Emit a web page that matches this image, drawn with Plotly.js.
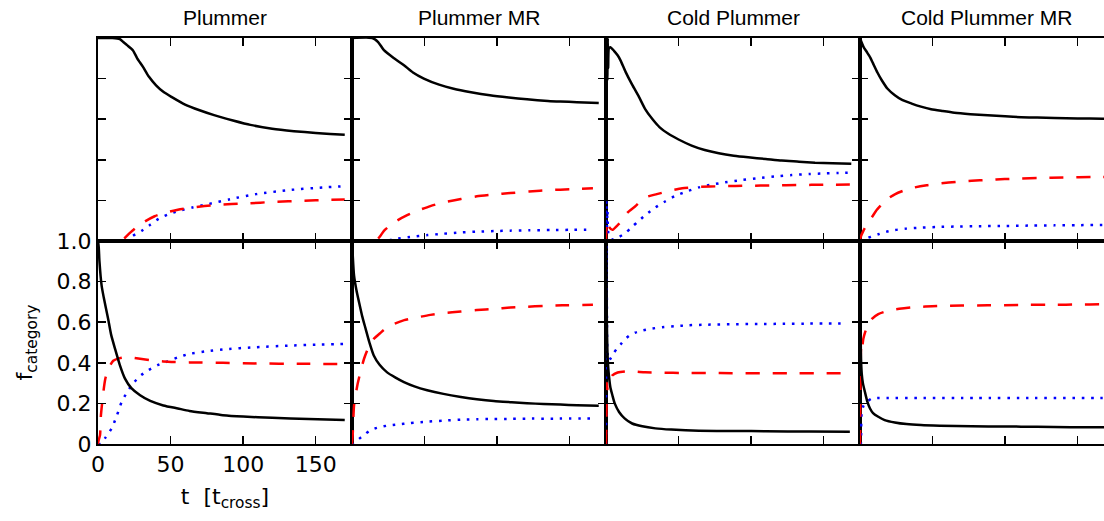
<!DOCTYPE html>
<html>
<head>
<meta charset="utf-8">
<script src="https://cdn.plot.ly/plotly-3.0.1.min.js"></script>
<style>
html, body { margin:0; padding:0; overflow:hidden; background:#fff; }
#chart { width:1116px; height:521px; }
</style>
</head>
<body>
<div id="chart"></div>
<script>
// ---------- labels ----------
const panelTitles = ["Plummer", "Plummer MR", "Cold Plummer", "Cold Plummer MR"];
const xTickVals = [0, 50, 100, 150];
const xTickText = ["0", "50", "100", "150"];
const yTickVals = [0, 0.2, 0.4, 0.6, 0.8, 1.0];
const yTickText = ["0", "0.2", "0.4", "0.6", "0.8", "1.0"];
const tRange = [0, 175];

// ---------- Plummer, top row ----------
const p1TopBlackT = [0, 10, 15, 17.4, 20, 24, 27, 31, 35, 40, 45, 50.6, 60, 70, 80, 93, 105, 120, 135, 150, 160, 170];
const p1TopBlackF = [1, 1, 0.995, 0.98, 0.965, 0.94, 0.9, 0.858, 0.81, 0.767, 0.735, 0.71, 0.672, 0.644, 0.62, 0.594, 0.572, 0.553, 0.541, 0.532, 0.527, 0.523];
const p1TopRedT = [0, 15, 18, 22, 27, 32.3, 39, 46.8, 55, 64.4, 82, 102, 121.7, 140.5, 159.6, 170];
const p1TopRedF = [0, 0, 0.012, 0.04, 0.07, 0.096, 0.122, 0.14, 0.154, 0.165, 0.178, 0.185, 0.193, 0.198, 0.203, 0.204];
const p1TopBlueT = [0, 20, 24, 30, 36, 42, 48, 56, 65, 75, 91, 109, 132, 155, 170];
const p1TopBlueF = [0, 0, 0.025, 0.05, 0.08, 0.11, 0.13, 0.149, 0.165, 0.18, 0.206, 0.231, 0.251, 0.264, 0.27];

// ---------- Plummer, bottom row ----------
const p1BotBlackT = [0, 0.5, 1, 2.5, 4, 7, 9, 11.7, 15, 18.6, 23, 29, 36, 45, 55, 63, 75, 86, 100, 120, 145, 170];
const p1BotBlackF = [1, 0.97, 0.9, 0.78, 0.72, 0.616, 0.54, 0.47, 0.39, 0.322, 0.275, 0.24, 0.212, 0.19, 0.175, 0.163, 0.152, 0.142, 0.135, 0.129, 0.123, 0.118];
const p1BotRedT = [0, 0.5, 1.4, 2, 3.7, 5, 7, 10.5, 15, 19.7, 24, 29, 36, 45, 63, 86, 109, 140, 170];
const p1BotRedF = [0, 0.02, 0.044, 0.14, 0.256, 0.32, 0.37, 0.41, 0.423, 0.428, 0.425, 0.42, 0.413, 0.407, 0.402, 0.4, 0.397, 0.395, 0.394];
const p1BotBlueT = [0, 2, 5, 9.4, 13, 16.3, 20, 24, 29, 34.6, 41, 48, 55, 63, 75, 86, 109, 132, 150, 170];
const p1BotBlueF = [0, 0, 0.03, 0.077, 0.14, 0.207, 0.255, 0.297, 0.335, 0.363, 0.388, 0.407, 0.427, 0.444, 0.457, 0.466, 0.477, 0.485, 0.489, 0.493];

// ---------- Plummer MR, top row ----------
const p2TopBlackT = [0, 14, 18, 22, 29, 35.8, 42, 49.5, 60, 70, 82, 95, 108, 120.6, 135, 143.5, 155, 170];
const p2TopBlackF = [1, 1, 0.98, 0.94, 0.9, 0.866, 0.83, 0.8, 0.77, 0.75, 0.733, 0.718, 0.707, 0.698, 0.69, 0.687, 0.684, 0.68];
const p2TopRedT = [0, 16, 19, 22, 26, 31, 38, 45, 54, 63, 75, 86, 98, 109, 122, 137, 150, 166];
const p2TopRedF = [0, 0, 0.02, 0.05, 0.075, 0.1, 0.127, 0.149, 0.172, 0.19, 0.207, 0.22, 0.229, 0.236, 0.244, 0.251, 0.255, 0.26];
const p2TopBlueT = [0, 22, 30, 40, 52, 63, 75, 86, 98, 109, 122, 137, 150, 166];
const p2TopBlueF = [0, 0, 0.01, 0.02, 0.029, 0.036, 0.042, 0.046, 0.049, 0.051, 0.053, 0.054, 0.055, 0.056];

// ---------- Plummer MR, bottom row ----------
const p2BotBlackT = [0, 0.5, 1.4, 3, 4.8, 7, 9.4, 12, 15, 19, 24, 30, 35.8, 43, 51.8, 63, 75, 86, 97.7, 110, 120.6, 132, 143.5, 155, 170];
const p2BotBlackF = [1, 0.93, 0.83, 0.76, 0.7, 0.63, 0.567, 0.5, 0.436, 0.39, 0.354, 0.327, 0.305, 0.284, 0.265, 0.247, 0.232, 0.221, 0.212, 0.206, 0.201, 0.197, 0.194, 0.191, 0.189];
const p2BotRedT = [0, 0.5, 1.4, 2.5, 3.7, 6, 8.3, 11, 15, 20, 24, 29, 36, 45, 54, 63, 75, 86, 98, 109, 120, 132, 145, 166];
const p2BotRedF = [0, 0.05, 0.19, 0.24, 0.29, 0.36, 0.42, 0.47, 0.518, 0.55, 0.574, 0.592, 0.61, 0.624, 0.636, 0.645, 0.653, 0.66, 0.666, 0.672, 0.676, 0.68, 0.683, 0.686];
const p2BotBlueT = [0, 1.5, 4, 8.3, 12, 17.4, 24, 31, 40, 52, 63, 75, 86, 97.7, 110, 120, 140, 166];
const p2BotBlueF = [0, 0, 0.02, 0.044, 0.065, 0.08, 0.09, 0.096, 0.103, 0.11, 0.115, 0.12, 0.122, 0.123, 0.124, 0.125, 0.125, 0.126];

// ---------- Cold Plummer, top row ----------
const p3TopBlackT = [0, 0.3, 0.6, 0.9, 1.2, 1.5, 2, 3, 5.5, 8, 10, 13.5, 18, 22.7, 27, 31.8, 37, 43, 50, 59, 68, 77.7, 88, 98, 110, 121, 133, 144, 156, 169];
const p3TopBlackF = [1, 0.8, 1, 0.79, 1, 0.85, 0.95, 0.955, 0.937, 0.915, 0.89, 0.833, 0.77, 0.71, 0.65, 0.602, 0.56, 0.528, 0.5, 0.47, 0.448, 0.432, 0.42, 0.412, 0.404, 0.396, 0.391, 0.386, 0.383, 0.38];
const p3TopRedT = [0, 0.3, 0.8, 2, 4.4, 7.6, 11, 14.8, 20, 27, 35, 44.5, 52.5, 63, 80, 98, 115, 133, 150, 168];
const p3TopRedF = [0, 0.07, 0.1, 0.07, 0.055, 0.075, 0.1, 0.14, 0.17, 0.214, 0.231, 0.248, 0.26, 0.266, 0.27, 0.272, 0.274, 0.276, 0.277, 0.278];
const p3TopBlueT = [0, 0.3, 0.6, 1, 2, 4.4, 9, 13.5, 18, 22.7, 28, 34, 41, 48, 56, 64, 73, 82, 93, 105, 116, 128, 140, 151, 160, 169];
const p3TopBlueF = [0, 0.2, 0.05, 0.15, 0.02, 0.008, 0.02, 0.04, 0.07, 0.1, 0.133, 0.165, 0.196, 0.223, 0.245, 0.264, 0.278, 0.289, 0.3, 0.31, 0.318, 0.325, 0.33, 0.333, 0.335, 0.337];

// ---------- Cold Plummer, bottom row ----------
const p3BotBlackT = [0, 0.3, 0.6, 1, 1.5, 2, 3, 4.4, 6, 9, 13, 18, 25, 34, 45, 64, 90, 110, 140, 168];
const p3BotBlackF = [1, 0.8, 0.6, 0.45, 0.38, 0.338, 0.28, 0.24, 0.2, 0.158, 0.125, 0.101, 0.087, 0.077, 0.071, 0.065, 0.064, 0.063, 0.061, 0.06];
const p3BotRedT = [0, 0.3, 0.6, 1, 2, 3, 4.4, 8, 13.5, 20, 27, 40, 52, 70, 87, 110, 133, 150, 167];
const p3BotRedF = [0, 0.15, 0.3, 0.27, 0.3, 0.32, 0.338, 0.352, 0.358, 0.357, 0.353, 0.351, 0.35, 0.35, 0.349, 0.349, 0.349, 0.349, 0.349];
const p3BotBlueT = [0, 0.3, 0.6, 1, 2, 3, 5.5, 8, 10, 13, 16, 20, 25, 31, 38.7, 47, 57, 70, 87, 105, 120, 140, 166];
const p3BotBlueF = [0, 0.98, 0.7, 0.45, 0.41, 0.42, 0.45, 0.475, 0.49, 0.515, 0.534, 0.548, 0.559, 0.568, 0.575, 0.58, 0.585, 0.588, 0.59, 0.591, 0.592, 0.593, 0.593];

// ---------- Cold Plummer MR, top row ----------
const p4TopBlackT = [0, 1, 2.5, 4.6, 7, 9, 12, 15, 19, 24, 29, 35.6, 42, 49, 57, 65, 76, 88, 100, 111, 122, 134, 150, 167, 175];
const p4TopBlackF = [1, 0.98, 0.955, 0.932, 0.905, 0.875, 0.83, 0.792, 0.75, 0.718, 0.695, 0.677, 0.662, 0.649, 0.64, 0.632, 0.625, 0.619, 0.614, 0.61, 0.608, 0.606, 0.604, 0.602, 0.601];
const p4TopRedT = [0, 0.5, 2.3, 5, 8, 11, 15, 19, 24, 30, 37.8, 46, 56, 66, 77, 88, 99.7, 111, 122.6, 140, 161.6, 175];
const p4TopRedF = [0, 0.02, 0.05, 0.085, 0.115, 0.148, 0.18, 0.208, 0.23, 0.248, 0.264, 0.275, 0.284, 0.291, 0.297, 0.301, 0.305, 0.308, 0.31, 0.313, 0.315, 0.316];
const p4TopBlueT = [0, 1, 3, 5.7, 9, 12.6, 18, 24, 32, 42, 53, 65, 80, 100, 118, 134, 150, 167, 175];
const p4TopBlueF = [0, 0, 0.008, 0.016, 0.025, 0.033, 0.045, 0.054, 0.061, 0.066, 0.069, 0.071, 0.073, 0.074, 0.076, 0.077, 0.078, 0.079, 0.079];

// ---------- Cold Plummer MR, bottom row ----------
const p4BotBlackT = [0, 0.3, 0.6, 1.2, 2, 3.4, 5, 6.9, 9, 12.6, 17, 24, 32, 42, 55, 77, 100, 122, 145, 167, 175];
const p4BotBlackF = [1, 0.7, 0.45, 0.346, 0.3, 0.256, 0.21, 0.175, 0.152, 0.134, 0.118, 0.106, 0.098, 0.093, 0.09, 0.087, 0.086, 0.085, 0.083, 0.082, 0.082];
const p4BotRedT = [0, 0.3, 0.6, 1, 1.5, 2.3, 3.5, 5.7, 8, 12.6, 19.5, 27, 35.6, 45, 54, 70, 88, 110, 134, 150, 167, 175];
const p4BotRedF = [0, 0.3, 0.45, 0.5, 0.48, 0.518, 0.55, 0.59, 0.615, 0.64, 0.657, 0.666, 0.673, 0.677, 0.68, 0.682, 0.683, 0.685, 0.686, 0.687, 0.688, 0.688];
const p4BotBlueT = [0, 0.5, 0.8, 1.2, 2.5, 4.6, 8, 12, 19.5, 40, 80, 120, 167, 175];
const p4BotBlueF = [0, 0, 0.08, 0.158, 0.19, 0.207, 0.224, 0.227, 0.227, 0.227, 0.227, 0.227, 0.227, 0.227];

// ---------- styles ----------
const styles = {
  black: {color: "#000000", width: 2.5, dash: "solid"},
  red:   {color: "#ff0000", width: 2.5, dash: "14px,13px"},
  blue:  {color: "#0000ff", width: 2.5, dash: "2.5px,6.8px"}
};

// [t, f, column(1-4), row("top"/"bot"), style]
const series = [
  [p1TopBlackT, p1TopBlackF, 1, "top", "black"], [p1TopRedT, p1TopRedF, 1, "top", "red"], [p1TopBlueT, p1TopBlueF, 1, "top", "blue"],
  [p1BotBlackT, p1BotBlackF, 1, "bot", "black"], [p1BotRedT, p1BotRedF, 1, "bot", "red"], [p1BotBlueT, p1BotBlueF, 1, "bot", "blue"],
  [p2TopBlackT, p2TopBlackF, 2, "top", "black"], [p2TopRedT, p2TopRedF, 2, "top", "red"], [p2TopBlueT, p2TopBlueF, 2, "top", "blue"],
  [p2BotBlackT, p2BotBlackF, 2, "bot", "black"], [p2BotRedT, p2BotRedF, 2, "bot", "red"], [p2BotBlueT, p2BotBlueF, 2, "bot", "blue"],
  [p3TopBlackT, p3TopBlackF, 3, "top", "black"], [p3TopRedT, p3TopRedF, 3, "top", "red"], [p3TopBlueT, p3TopBlueF, 3, "top", "blue"],
  [p3BotBlackT, p3BotBlackF, 3, "bot", "black"], [p3BotRedT, p3BotRedF, 3, "bot", "red"], [p3BotBlueT, p3BotBlueF, 3, "bot", "blue"],
  [p4TopBlackT, p4TopBlackF, 4, "top", "black"], [p4TopRedT, p4TopRedF, 4, "top", "red"], [p4TopBlueT, p4TopBlueF, 4, "top", "blue"],
  [p4BotBlackT, p4BotBlackF, 4, "bot", "black"], [p4BotRedT, p4BotRedF, 4, "bot", "red"], [p4BotBlueT, p4BotBlueF, 4, "bot", "blue"]
];

// axis index: top row 1..4, bottom row 5..8
function axIndex(col, row) { return row === "top" ? col : col + 4; }
function axName(prefix, idx) { return idx === 1 ? prefix : prefix + idx; }

// draw order: blue, red, black (black on top)
const order = {blue: 0, red: 1, black: 2};
const traces = series.slice().sort((a, b) => order[a[4]] - order[b[4]]).map(s => {
  const idx = axIndex(s[2], s[3]);
  return {
    x: s[0], y: s[1], type: "scatter", mode: "lines",
    xaxis: idx === 1 ? "x" : "x" + idx,
    yaxis: idx === 1 ? "y" : "y" + idx,
    line: {color: styles[s[4]].color, width: styles[s[4]].width, dash: styles[s[4]].dash,
           shape: "spline", smoothing: 0.6},
    hoverinfo: "skip", showlegend: false
  };
});

const FONT = "DejaVu Sans, sans-serif";
const TITLE_FONT = "Liberation Sans, Arial, sans-serif";
const colDomains = [[0, 0.25], [0.25, 0.5], [0.5, 0.75], [0.75, 1]];
const rowDomains = {top: [0.5, 1], bot: [0, 0.5]};

const layout = {
  width: 1116, height: 521,
  margin: {l: 98, r: 2, t: 38, b: 77},
  paper_bgcolor: "#ffffff", plot_bgcolor: "#ffffff",
  font: {family: FONT, color: "#000000", size: 20},
  showlegend: false,
  annotations: []
};

for (let col = 1; col <= 4; col++) {
  for (const row of ["top", "bot"]) {
    const idx = axIndex(col, row);
    const showLabels = (idx === 5);
    const xa = {
      domain: colDomains[col - 1], anchor: idx === 1 ? "y" : "y" + idx,
      range: tRange, showgrid: false, zeroline: false,
      showline: true, linecolor: "#000", linewidth: 2, mirror: "ticks",
      ticks: "inside", ticklen: 8, tickwidth: 1.5, tickcolor: "#000",
      tickvals: xTickVals, ticktext: xTickText, showticklabels: showLabels,
      tickfont: {family: FONT, size: 22, color: "#000"},
      fixedrange: true
    };
    const ya = {
      domain: rowDomains[row], anchor: idx === 1 ? "x" : "x" + idx,
      range: [0, 1], showgrid: false, zeroline: false,
      showline: true, linecolor: "#000", linewidth: 2, mirror: "ticks",
      ticks: "inside", ticklen: 8, tickwidth: 1.5, tickcolor: "#000",
      tickvals: yTickVals, ticktext: yTickText, showticklabels: showLabels,
      tickfont: {family: FONT, size: 22, color: "#000"},
      fixedrange: true
    };
    if (showLabels) {
      xa.title = {text: "t  [t<sub>cross</sub>]", font: {family: FONT, size: 22, color: "#000"}, standoff: 12};
      ya.title = {text: "f<sub>category</sub>", font: {family: FONT, size: 22, color: "#000"}, standoff: 18};
    }
    layout[axName("xaxis", idx)] = xa;
    layout[axName("yaxis", idx)] = ya;
  }
  layout.annotations.push({
    text: panelTitles[col - 1], xref: axName("x", col) + " domain", yref: "paper",
    x: 0.5, y: 1, xanchor: "center", yanchor: "middle", yshift: 21,
    showarrow: false, font: {family: TITLE_FONT, size: 21, color: "#000"}
  });
}

Plotly.newPlot("chart", traces, layout, {staticPlot: true, displayModeBar: false});
</script>
</body>
</html>
